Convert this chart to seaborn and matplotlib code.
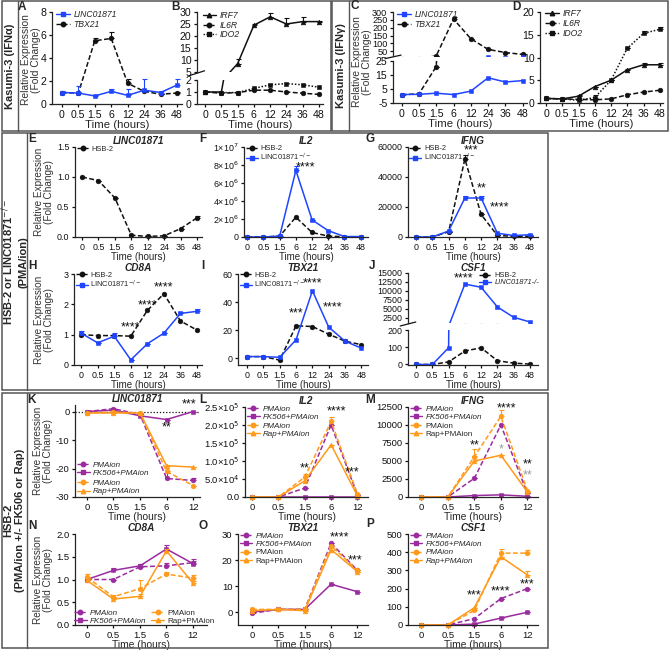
import numpy as np
import matplotlib
matplotlib.use("Agg")
import matplotlib.pyplot as plt
import seaborn as sns
from matplotlib.lines import Line2D
from matplotlib.patches import Rectangle

sns.set_style("ticks")
plt.rcParams["font.family"] = ["Liberation Sans", "DejaVu Sans"]
plt.rcParams["axes.linewidth"] = 0.9

# ---------------- data ----------------
time8 = ["0", "0.5", "1.5", "6", "12", "24", "36", "48"]
time5 = ["0", "0.5", "1.5", "6", "12"]

# A  Kasumi-3 IFNa
a_linc = [1.0, 0.95, 0.7, 1.1, 0.75, 1.2, 1.0, 1.65]
a_linc_err = [0.1, 0.6, 0.05, 0.2, 0.55, 1.0, 0.1, 0.5]
a_tbx = [1.0, 0.95, 5.5, 5.7, 1.8, 1.1, 0.85, 0.95]
a_tbx_err = [0.05, 0.1, 0.2, 0.6, 0.4, 0.1, 0.05, 0.1]
# B
b_irf7 = [1.0, 1.0, 8.5, 24.5, 28.0, 25.0, 26.0, 26.0]
b_irf7_err = [0, 0, 2.0, 0.6, 1.5, 2.5, 2.0, 0.3]
b_il6r = [1.0, 0.9, 0.95, 1.15, 1.15, 1.0, 0.9, 0.8]
b_ido2 = [1.0, 0.95, 0.95, 1.3, 1.6, 1.7, 1.6, 1.4]
# C  Kasumi-3 IFNg
c_linc = [1.0, 1.2, 2.0, 1.0, 3.5, 13.0, 10.0, 11.0]
c_tbx = [1.0, 1.5, 21.0, 255.0, 130.0, 62.0, 42.0, 30.0]
c_tbx_err = [0, 0, 0, 12.0, 0, 0, 0, 0]
# D
d_irf7 = [1.0, 0.9, 1.5, 3.6, 5.0, 7.3, 8.4, 8.4]
d_irf7_err = [0, 0, 0.3, 0, 0, 0.2, 0.5, 0.5]
d_il6r = [1.0, 0.9, 0.8, 0.7, 0.9, 1.8, 2.4, 2.8]
d_ido2 = [1.0, 0.9, 0.6, 1.2, 5.0, 12.0, 15.3, 16.2]
d_ido2_err = [0, 0, 0, 0.5, 0, 0, 0.5, 0.5]

# E-J  HSB-2 vs LINC01871-/-
e_hsb = [1.0, 0.94, 0.65, 0.03, 0.01, 0.02, 0.14, 0.32]
e_hsb_err = [0, 0, 0, 0, 0, 0, 0, 0.03]
f_hsb = [0, 0, 0.1e6, 2.2e6, 0.5e6, 0.1e6, 0.02e6, 0.02e6]
f_ko = [0, 0, 0.1e6, 7.4e6, 1.9e6, 0.7e6, 0.05e6, 0.05e6]
f_ko_err = [0, 0, 0, 0.5e6, 0, 0, 0, 0]
g_hsb = [0, 0, 3500, 52000, 15000, 1000, 500, 500]
g_hsb_err = [0, 0, 0, 3000, 0, 0, 0, 0]
g_ko = [0, 0, 4000, 26000, 26000, 2500, 1000, 1500]
g_ko_err = [0, 0, 0, 1500, 1500, 0, 0, 0]
h_hsb = [1.0, 0.97, 0.97, 0.95, 1.8, 2.35, 1.45, 1.15]
h_ko = [1.05, 0.73, 0.95, 0.17, 0.7, 1.05, 1.7, 1.77]
h_ko_err = [0.06, 0, 0.1, 0, 0, 0, 0.05, 0.06]
i_hsb = [1.0, 1.0, -1.5, 23.0, 22.5, 17.0, 12.0, 9.5]
i_ko = [1.0, 1.0, 0.5, 13.0, 48.0, 22.0, 12.0, 7.0]
j_hsb = [0, 0, 15, 78, 97, 22, 8, 2]
j_ko = [0, 0, 97, 11900, 11000, 5500, 2600, 1300]

# K-P  HSB-2 +/- FK506 or Rap (order: PMAion purple, FK506, PMAion orange, Rap)
k_vals = [[0, 1.0, -1.0, -23.5, -24.2],
          [0, 0.5, -1.5, -2.8, 0.0],
          [-0.5, -0.2, -0.5, -21.0, -26.0],
          [-0.5, -0.5, -0.5, -19.0, -19.5]]
k_err = [[0, 0, 0, 2.0, 1.0], [0, 0, 0, 0, 0], [0, 0, 0, 0, 0], [0, 0, 0, 0, 0]]
l_vals = [[0, 0, 2.5e4, 2.0e5, 5e3],
          [0, 0, 0, 0, 0],
          [0, 0, 5.5e4, 2.1e5, 8e3],
          [0, 0, 4.5e4, 1.45e5, 3e3]]
l_err = [[0, 0, 0, 0, 0], [0, 0, 0, 0, 0], [0, 0, 0.8e4, 1.2e4, 0], [0, 0, 0, 0, 0]]
m_vals = [[0, 0, 2600, 10000, 500],
          [0, 0, 200, 300, 100],
          [0, 0, 5600, 11200, 900],
          [0, 0, 5000, 5800, 700]]
m_err = [[0, 0, 0, 0, 0], [0, 0, 0, 0, 0], [0, 0, 1000, 900, 0], [0, 0, 700, 0, 0]]
n_vals = [[1.0, 1.0, 1.28, 1.3, 1.37],
          [1.0, 1.2, 1.3, 1.67, 1.35],
          [1.05, 0.62, 0.8, 1.12, 1.03],
          [0.98, 0.57, 0.63, 1.63, 0.92]]
n_err = [[0, 0, 0.05, 0.06, 0.08], [0, 0.05, 0.05, 0.08, 0.05],
         [0.08, 0.05, 0.18, 0.04, 0.06], [0.05, 0.05, 0.06, 0.05, 0.04]]
o_vals = [[-0.5, 1.0, 1.0, 26.5, 16.0],
          [0.0, 1.0, 1.0, 10.7, 7.8],
          [1.0, 1.0, 1.0, 25.5, 16.0],
          [0.5, 1.0, 0.5, 24.0, 15.5]]
p_vals = [[0, 0, 35, 145, 200],
          [0, 0, 5, 38, 70],
          [0, 0, 80, 395, 395],
          [0, 0, 95, 375, 275]]
p_err = [[0, 0, 0, 0, 0], [0, 0, 0, 0, 0], [0, 0, 0, 25, 15], [0, 0, 0, 0, 20]]

BLUE = "#1f45ff"
BLACK = "#111111"
PURPLE = "#9b2ca0"
ORANGE = "#ff9a1a"
GREY = "#555555"
DASH = (0, (3.2, 1.6))
DOT = (0, (1, 1.2))

W, H = 672, 650
fig = plt.figure(figsize=(6.72, 6.5), dpi=100)


def frac(x0, y0, x1, y1):
    return [x0 / W, 1 - y1 / H, (x1 - x0) / W, (y1 - y0) / H]


def new_ax(x0, y0, x1, y1):
    ax = fig.add_axes(frac(x0, y0, x1, y1))
    sns.despine(ax=ax)
    ax.tick_params(length=2.5, width=0.9, pad=1.5, colors=BLACK)
    return ax


def draw(ax, vals, color, ls, marker, err=None, clip=False, ms=3.4):
    x = np.arange(len(vals))
    sns.lineplot(x=x, y=vals, ax=ax, color=color, linestyle=ls, marker=marker,
                 markersize=ms, markeredgecolor=color, markeredgewidth=0.4,
                 lw=1.1, estimator=None, clip_on=clip)
    if err is not None:
        ax.errorbar(x, vals, yerr=[np.zeros(len(err)), err], fmt="none",
                    ecolor=color, elinewidth=0.8, capsize=1.8, capthick=0.8,
                    clip_on=clip)


def xaxis(ax, labels, fs, pad, show=True):
    ax.set_xticks(range(len(labels)))
    ax.set_xlim(-pad[0], len(labels) - 1 + pad[1])
    if show:
        ax.set_xticklabels(labels, fontsize=fs)
        ax.set_xlabel("Time (hours)", fontsize=fs + 0.6, labelpad=0)
    else:
        ax.set_xticklabels([])
        ax.tick_params(axis="x", bottom=False)
        ax.spines["bottom"].set_visible(False)


def yaxis(ax, lim, ticks, fs, labels=None):
    ax.set_ylim(*lim)
    ax.set_yticks(ticks)
    ax.set_yticklabels(labels if labels is not None else [str(t) for t in ticks], fontsize=fs)


def legend(ax, entries, fs, spacing=0.1, **kw):
    handles = [Line2D([], [], color=c, linestyle=ls, marker=m, markersize=3.2, lw=1.0)
               for _, c, ls, m, _ in entries]
    leg = ax.legend(handles, [e[0] for e in entries], fontsize=fs, frameon=False,
                    handlelength=1.6, handletextpad=0.4, labelspacing=spacing,
                    borderpad=0.1, borderaxespad=0.1, **kw)
    for t, e in zip(leg.get_texts(), entries):
        t.set_style("italic" if e[4] else "normal")
    return leg


def stars(ax, x, y, s, color=BLACK, fs=9):
    ax.text(x, y, s, ha="center", va="center", fontsize=fs, color=color,
            clip_on=False)


def ftext(x, y, s, **kw):
    fig.text(x / W, 1 - y / H, s, **kw)


def fline(x0, y0, x1, y1, color=GREY, lw=1.0):
    fig.add_artist(Line2D([x0 / W, x1 / W], [1 - y0 / H, 1 - y1 / H],
                          color=color, lw=lw, transform=fig.transFigure))


def frect(x0, y0, x1, y1):
    fig.add_artist(Rectangle((x0 / W, 1 - y1 / H), (x1 - x0) / W, (y1 - y0) / H,
                             fill=False, ec=GREY, lw=1.1, transform=fig.transFigure))


def breakmark(ax_top):
    ax_top.plot([-0.06, 0.06], [-0.06, 0.02], transform=ax_top.transAxes,
                color=BLACK, lw=0.9, clip_on=False)


def ylab(x, y, fs):
    ftext(x, y, "Relative Expression\n(Fold Change)", rotation=90, ha="center",
          va="center", fontsize=fs, color="#333333", multialignment="center",
          linespacing=1.1)


# ---------------- frames ----------------
frect(2, 1, 331, 131)
frect(332, 1, 668, 131)
fline(18, 1, 18, 131)
fline(349, 1, 349, 131)
frect(2, 133, 548, 390)
fline(27, 133, 27, 390)
frect(2, 393, 548, 648)
fline(27, 393, 27, 648)

ftext(10, 66, "Kasumi-3 (IFN\u03b1)", rotation=90, ha="center", va="center",
      fontsize=8, fontweight="bold")
ftext(341, 66, "Kasumi-3 (IFN\u03b3)", rotation=90, ha="center", va="center",
      fontsize=8, fontweight="bold")
ftext(14, 262, "HSB-2 or LINC01871$^{-/-}$\n(PMA/ion)", rotation=90, ha="center",
      va="center", fontsize=8, fontweight="bold", multialignment="center")
ftext(14, 520, "HSB-2\n(PMA/ion +/- FK506 or Rap)", rotation=90, ha="center",
      va="center", fontsize=8, fontweight="bold", multialignment="center")

for letter, x, y in [("A", 22, 7), ("B", 175, 7), ("C", 355, 6), ("D", 516, 7),
                     ("E", 32, 139), ("F", 203, 139), ("G", 370, 139),
                     ("H", 32, 266), ("I", 203, 266), ("J", 372, 266),
                     ("K", 32, 400), ("L", 203, 400), ("M", 370, 400),
                     ("N", 32, 526), ("O", 203, 526), ("P", 370, 524)]:
    ftext(x, y, letter, fontsize=8.5, fontweight="bold", ha="center", va="center")

TFS, LFS = 7.6, 6.2   # top row ticks, legend

# ---------------- A ----------------
ax = new_ax(52, 12, 182, 104)
draw(ax, a_tbx, BLACK, DASH, "o", a_tbx_err)
draw(ax, a_linc, BLUE, "-", "s", a_linc_err)
xaxis(ax, time8, TFS, (0.6, 0.3))
yaxis(ax, (0, 8), [0, 2, 4, 6, 8], TFS)
legend(ax, [("LINC01871", BLUE, "-", "s", True), ("TBX21", BLACK, DASH, "o", True)],
       LFS, loc="upper left", bbox_to_anchor=(0.02, 1.04))
ylab(31, 60, 7.4)

# ---------------- B (broken) ----------------
bt = new_ax(197, 12, 323, 72)
bl = new_ax(197, 80, 323, 104)
for a in (bt, bl):
    draw(a, b_irf7, BLACK, "-", "^", b_irf7_err, clip=True)
    draw(a, b_il6r, BLACK, DASH, "o", clip=True)
    draw(a, b_ido2, BLACK, DOT, "s", clip=True)
xaxis(bt, time8, TFS, (0.5, 0.25), show=False)
xaxis(bl, time8, TFS, (0.5, 0.25))
yaxis(bt, (5, 30), [5, 10, 15, 20, 25, 30], TFS)
yaxis(bl, (0, 2), [0, 1, 2], TFS)
breakmark(bt)
legend(bt, [("IRF7", BLACK, "-", "^", True), ("IL6R", BLACK, DASH, "o", True),
            ("IDO2", BLACK, DOT, "s", True)], LFS, loc="upper left",
       bbox_to_anchor=(0.03, 1.05))

# ---------------- C (broken) ----------------
ct = new_ax(393, 12, 527, 56)
cl = new_ax(393, 61, 527, 103)
for a in (ct, cl):
    draw(a, c_tbx, BLACK, DASH, "o", c_tbx_err, clip=True)
    draw(a, c_linc, BLUE, "-", "s", clip=True)
xaxis(ct, time8, TFS, (0.5, 0.25), show=False)
xaxis(cl, time8, TFS, (0.5, 0.25))
yaxis(ct, (20, 300), [50, 100, 150, 200, 250, 300], 6.6)
yaxis(cl, (-5, 25), [-5, 5, 15, 25], TFS)
breakmark(ct)
legend(ct, [("LINC01871", BLUE, "-", "s", True), ("TBX21", BLACK, DASH, "o", True)],
       LFS, loc="upper left", bbox_to_anchor=(0.02, 1.08))
ylab(362, 62, 7.4)

# ---------------- D ----------------
ax = new_ax(540, 12, 663, 103)
draw(ax, d_irf7, BLACK, "-", "^", d_irf7_err)
draw(ax, d_il6r, BLACK, DASH, "o")
draw(ax, d_ido2, BLACK, DOT, "s", d_ido2_err)
xaxis(ax, time8, TFS, (0.37, 0.2))
yaxis(ax, (0, 20), [0, 5, 10, 15, 20], TFS)
legend(ax, [("IRF7", BLACK, "-", "^", True), ("IL6R", BLACK, DASH, "o", True),
            ("IDO2", BLACK, DOT, "s", True)], LFS, loc="upper left",
       bbox_to_anchor=(0.03, 1.05))

# ---------------- middle rows ----------------
MFS, MLFS = 6.4, 5.4
hsb = ("HSB-2", BLACK, DASH, "o", False)
ko = ("LINC01871$^{-/-}$", BLUE, "-", "s", False)


def title(ax, s):
    ax.set_title(s, fontsize=7.2, fontweight="bold", style="italic", pad=2)


ax = new_ax(75, 147, 202, 237)
draw(ax, e_hsb, BLACK, DASH, "o", e_hsb_err)
xaxis(ax, time8, MFS, (0.43, 0.3))
yaxis(ax, (0, 1.5), [0, 0.5, 1.0, 1.5], MFS, ["0.0", "0.5", "1.0", "1.5"])
title(ax, "LINC01871")
legend(ax, [hsb], MLFS, loc="upper left", bbox_to_anchor=(0.0, 1.03))
ylab(44, 192, 7.2)

ax = new_ax(244, 147, 368, 237)
draw(ax, f_hsb, BLACK, DASH, "o")
draw(ax, f_ko, BLUE, "-", "s", f_ko_err)
xaxis(ax, time8, MFS, (0.2, 0.45))
yaxis(ax, (0, 1e7), [0, 2e6, 4e6, 6e6, 8e6, 1e7], MFS,
      ["0", "2\u00d710$^6$", "4\u00d710$^6$", "6\u00d710$^6$", "8\u00d710$^6$", "1\u00d710$^7$"])
title(ax, "IL2")
legend(ax, [hsb, ko], MLFS, spacing=0.0, loc="upper left", bbox_to_anchor=(0.0, 1.04))
stars(ax, 3.6, 7.7e6, "****")

ax = new_ax(408, 147, 538, 237)
draw(ax, g_hsb, BLACK, DASH, "o", g_hsb_err)
draw(ax, g_ko, BLUE, "-", "s", g_ko_err)
xaxis(ax, time8, MFS, (0.5, 0.5))
yaxis(ax, (0, 60000), [0, 20000, 40000, 60000], MFS)
title(ax, "IFNG")
legend(ax, [hsb, ko], MLFS, spacing=0.0, loc="upper left", bbox_to_anchor=(0.0, 1.04))
stars(ax, 3.4, 57500, "***")
stars(ax, 4.0, 32500, "**")
stars(ax, 5.15, 20000, "****")

ax = new_ax(74, 274, 202, 365)
draw(ax, h_hsb, BLACK, DASH, "o")
draw(ax, h_ko, BLUE, "-", "s", h_ko_err)
xaxis(ax, time8, MFS, (0.43, 0.3))
yaxis(ax, (0, 3), [0, 1, 2, 3], MFS)
title(ax, "CD8A")
legend(ax, [hsb, ko], MLFS, spacing=0.0, loc="upper left", bbox_to_anchor=(0.0, 1.04))
stars(ax, 3.0, 1.25, "****")
stars(ax, 4.0, 1.95, "****")
stars(ax, 5.0, 2.55, "****")
ylab(44, 320, 7.2)

ax = new_ax(238, 274, 368, 365)
draw(ax, i_hsb, BLACK, DASH, "o")
draw(ax, i_ko, BLUE, "-", "s")
xaxis(ax, time8, MFS, (0.55, 0.4))
yaxis(ax, (-5, 60), [0, 20, 40, 60], MFS)
title(ax, "TBX21")
legend(ax, [hsb, ("LINC08171$^{-/-}$", BLUE, "-", "s", False)], MLFS, spacing=0.0,
       loc="upper left", bbox_to_anchor=(0.0, 1.04))
stars(ax, 3.0, 32, "***")
stars(ax, 4.0, 53, "****")
stars(ax, 5.2, 36, "****")

jt = new_ax(408, 273, 538, 323)
jl = new_ax(408, 330, 538, 365)
for a in (jt, jl):
    draw(a, j_hsb, BLACK, DASH, "o", clip=True)
    draw(a, j_ko, BLUE, "-", "s", clip=True)
xaxis(jt, time8, MFS, (0.5, 0.5), show=False)
xaxis(jl, time8, MFS, (0.5, 0.5))
yaxis(jt, (1000, 15000), [2500, 5000, 7500, 10000, 12500, 15000], MFS)
yaxis(jl, (-3, 200), [0, 100, 200], MFS)
breakmark(jt)
jt.set_title("CSF1", fontsize=7.2, fontweight="bold", style="italic", pad=1)
legend(jt, [hsb, ("LINC01871-/-", BLUE, "-", "s", True)], MLFS, spacing=0.0,
       loc="upper right", bbox_to_anchor=(1.02, 1.05))
stars(jt, 2.9, 13600, "****")

# ---------------- bottom rows ----------------
BFS = 6.8
STY = [(PURPLE, DASH, "o"), (PURPLE, "-", "s"), (ORANGE, DASH, "o"), (ORANGE, "-", "^")]
NAMES = ["PMAion", "FK506+PMAion", "PMAion", "Rap+PMAion"]


def bottom(box, vals, errs, ylim, ticks, name, pad, tlabels=None):
    ax = new_ax(*box)
    for v, e, (c, ls, m) in zip(vals, errs, STY):
        draw(ax, v, c, ls, m, e)
    xaxis(ax, time5, BFS, pad)
    yaxis(ax, ylim, ticks, BFS, tlabels)
    title(ax, name)
    return ax


def entries(italics):
    return [(n, c, ls, m, it) for n, (c, ls, m), it in zip(NAMES, STY, italics)]


zero5 = [[0] * 5] * 4
BLFS = 5.8

ax = bottom((75, 405, 200, 497), k_vals, k_err, (-30, 2.3), [-30, -20, -10, 0],
            "LINC01871", (0.45, 0.26))
ax.axhline(0, color=BLACK, lw=0.9, linestyle=(0, (1, 1.5)), zorder=0)
e = entries([True, True, True, True])
l1 = legend(ax, e[:2], BLFS, loc="lower left", bbox_to_anchor=(0.0, 0.2))
ax.add_artist(l1)
legend(ax, e[2:], BLFS, loc="lower left", bbox_to_anchor=(0.0, 0.0))
stars(ax, 3.0, -5.5, "**")
stars(ax, 3.85, 2.6, "***")
ylab(43, 451, 7.2)

ax = bottom((245, 407, 368, 497), l_vals, l_err, (0, 2.5e5),
            [0, 5e4, 1e5, 1.5e5, 2e5, 2.5e5], "IL2", (0.27, 0.4),
            ["0.0", "5.0\u00d710$^4$", "1.0\u00d710$^5$", "1.5\u00d710$^5$",
             "2.0\u00d710$^5$", "2.5\u00d710$^5$"])
legend(ax, entries([True, True, True, True]), BLFS, loc="upper left",
       bbox_to_anchor=(0.0, 1.04))
stars(ax, 2.0, 7.8e4, "**")
stars(ax, 3.2, 2.38e5, "****")
stars(ax, 3.8, 6.7e4, "***")

ax = bottom((408, 407, 538, 497), m_vals, m_err, (0, 12500),
            [0, 2500, 5000, 7500, 10000, 12500], "IFNG", (0.5, 0.4))
legend(ax, entries([True, True, False, False]), BLFS, loc="upper left",
       bbox_to_anchor=(0.0, 1.04))
stars(ax, 2.0, 7200, "**")
stars(ax, 3.2, 12300, "****")
stars(ax, 3.0, 6600, "*", color="#999999")
stars(ax, 4.0, 4500, "**")
stars(ax, 4.0, 3000, "**", color="#999999")

ax = bottom((75, 534, 207, 625), n_vals, n_err, (0, 2), [0, 0.5, 1.0, 1.5, 2.0],
            "CD8A", (0.45, 0.53), ["0.0", "0.5", "1.0", "1.5", "2.0"])
legend(ax, entries([True, True, False, False]), BLFS, loc="lower left",
       bbox_to_anchor=(-0.02, -0.02), ncol=2, columnspacing=0.6)
ylab(43, 580, 7.2)

ax = bottom((238, 534, 368, 625), o_vals, zero5, (-5, 30), [0, 10, 20, 30], "TBX21",
            (0.53, 0.4))
legend(ax, entries([True, True, False, False]), BLFS, loc="upper left",
       bbox_to_anchor=(0.0, 1.04))
stars(ax, 3.3, 28.5, "****")
stars(ax, 3.9, 20, "***")

ax = bottom((408, 534, 538, 625), p_vals, p_err, (0, 500),
            [0, 100, 200, 300, 400, 500], "CSF1", (0.5, 0.4))
legend(ax, entries([True, True, True, True]), BLFS, loc="upper left",
       bbox_to_anchor=(0.0, 1.04))
stars(ax, 2.0, 160, "***")
stars(ax, 3.0, 185, "****")
stars(ax, 4.0, 225, "***")

fig.savefig("out.png", dpi=100)
